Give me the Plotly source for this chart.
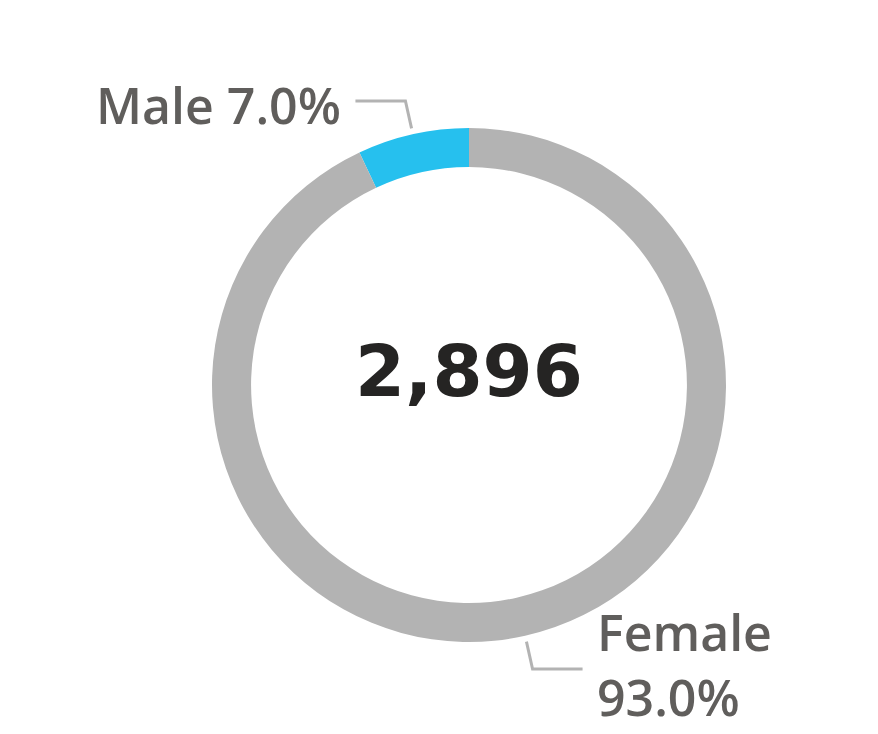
import math
import plotly.graph_objects as go

labels = ["Male", "Female"]
values = [203, 2693]
colors = ["#26C0EE", "#B3B3B3"]

W, H = 878, 734
L, R, T, B = 204, 160, 120, 100
pw, ph = W - L - R, H - T - B
cx, cy = L + pw / 2, T + ph / 2
rad = min(pw, ph) / 2

def px2paper(x, y):
    return (x - L) / pw, 1 - (y - T) / ph

total = sum(values)
first_frac = values[0] / total
fig = go.Figure(go.Pie(
    labels=labels, values=values, sort=False, direction="clockwise",
    rotation=-first_frac * 360, hole=0.848, textinfo="none",
    hoverinfo="label+percent",
    marker=dict(colors=colors, line=dict(width=0)), showlegend=False,
))

label_font = dict(family="Open Sans, Noto Sans, sans-serif", size=50,
                  color="#605E5C", weight=600)

shapes = []
annotations = []
cum = 0
for i, (lab, v) in enumerate(zip(labels, values)):
    frac = v / total
    mid = (cum + frac / 2) * 2 * math.pi
    cum += frac
    # slices run counterclockwise from 12 o'clock on screen
    dx, dy = -math.sin(mid), -math.cos(mid)  # screen coords (y down)
    x0, y0 = cx + dx * (rad + 6), cy + dy * (rad + 6)
    x1, y1 = cx + dx * (rad + 34), cy + dy * (rad + 34)
    side = -1 if dx < 0 else 1
    x2 = x1 + side * 50
    p0, p1, p2 = px2paper(x0, y0), px2paper(x1, y1), px2paper(x2, y1)
    shapes.append(dict(type="path", xref="paper", yref="paper",
                       path=f"M {p0[0]} {p0[1]} L {p1[0]} {p1[1]} L {p2[0]} {p2[1]}",
                       line=dict(color="#B3B3B3", width=3)))
    pct = f"{frac * 100:.1f}%"
    if side < 0:
        ax, ay = px2paper(x2 - 12, y1 + 4)
        annotations.append(dict(x=ax, y=ay, xref="paper", yref="paper",
                                text=f"{lab} {pct}", showarrow=False,
                                xanchor="right", yanchor="middle",
                                font=label_font))
    else:
        ax, ay = px2paper(x2 + 12, y1 - 4)
        annotations.append(dict(x=ax, y=ay, xref="paper", yref="paper",
                                text=f"{lab}<br>{pct}", showarrow=False,
                                xanchor="left", yanchor="middle", align="left",
                                font=label_font))

annotations.append(dict(x=0.5, y=0.5, xref="paper", yref="paper",
                        text=f"<b>{total:,}</b>", showarrow=False, yshift=14,
                        font=dict(family="DejaVu Sans, sans-serif",
                                  size=72, color="#252423")))

fig.update_layout(width=W, height=H, margin=dict(l=L, r=R, t=T, b=B),
                  paper_bgcolor="white", plot_bgcolor="white",
                  shapes=shapes, annotations=annotations)
fig.write_html("out.html")
